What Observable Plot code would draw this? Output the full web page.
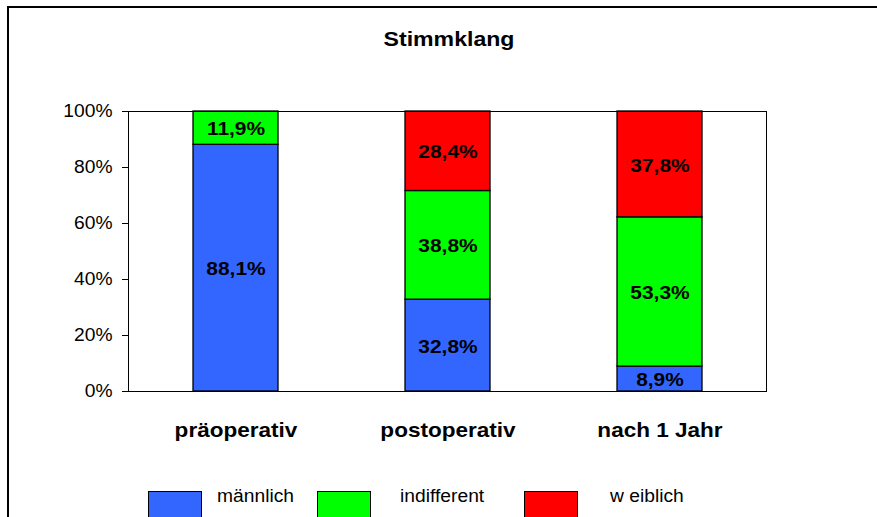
<!DOCTYPE html>
<html>
<head>
<meta charset="utf-8">
<script src="https://cdn.jsdelivr.net/npm/d3@7"></script>
<script src="https://cdn.jsdelivr.net/npm/@observablehq/plot@0.6"></script>
<style>
  html, body { margin: 0; padding: 0; background: #fff; }
  #wrap { position: relative; width: 877px; height: 517px; overflow: hidden; background: #fff;
          font-family: "Liberation Sans", Arial, sans-serif; }
  #frame { position: absolute; left: 7px; top: 6px; width: 1000px; height: 1000px;
           border-left: 2px solid #000; border-top: 2px solid #000; }
  #title { position: absolute; left: 449px; top: 28px; font-size: 21px; font-weight: bold; line-height: 21px;
           white-space: nowrap; transform: translateX(-50%) scaleX(1.1); }
  #chart { position: absolute; left: 0; top: 0; }
  .sw { position: absolute; top: 491px; width: 54px; height: 40px; border: 1.5px solid #000; box-sizing: border-box; }
  .lt { position: absolute; top: 487px; font-size: 17.5px; line-height: 19px; white-space: nowrap;
        transform-origin: left center; transform: scaleX(1.1); }
</style>
</head>
<body>
<div id="wrap">
  <div id="frame"></div>
  <div id="title">Stimmklang</div>
  <div id="chart"></div>
</div>
<script>
const title = "Stimmklang";
const categories = ["präoperativ", "postoperativ", "nach 1 Jahr"];
const seriesNames = ["männlich", "indifferent", "weiblich"];
const legendLabels = ["männlich", "indifferent", "w eiblich"];
const maennlich = [88.1, 32.8, 8.9];
const indifferent = [11.9, 38.8, 53.3];
const weiblich = [0, 28.4, 37.8];
const seriesColors = ["#3366FF", "#00FF00", "#FF0000"];
const yTicks = [0, 20, 40, 60, 80, 100];

const seriesValues = [maennlich, indifferent, weiblich];
const data = [];
categories.forEach((c, i) => {
  seriesNames.forEach((s, j) => {
    const v = seriesValues[j][i];
    if (v > 0) data.push({category: c, series: s, value: v});
  });
});

const fmt = v => v.toFixed(1).replace(".", ",") + "%";

const chart = Plot.plot({
  width: 877,
  height: 470,
  marginLeft: 128,
  marginRight: 111,
  marginTop: 111,
  marginBottom: 79,
  style: {fontFamily: "'Liberation Sans', Arial, sans-serif", background: "transparent", color: "#000", overflow: "visible"},
  x: {domain: categories, paddingInner: 0.6, paddingOuter: 0.3, axis: null},
  y: {domain: [0, 100], axis: null},
  color: {domain: seriesNames, range: seriesColors},
  marks: [
    Plot.barY(data, Plot.stackY({x: "category", y: "value", z: "series", fill: "series", order: seriesNames, stroke: "#000", strokeWidth: 1.3})),
    Plot.frame({stroke: "#000", strokeWidth: 1}),
    Plot.text(data, Plot.stackY({x: "category", y: "value", z: "series", order: seriesNames,
      text: d => fmt(d.value), fill: "#000", fontWeight: "bold", fontSize: 19, dy: 1})),
    Plot.axisY({ticks: yTicks, tickFormat: d => d + "%", tickSize: 6, tickPadding: 10, fontSize: 17.5, label: null, stroke: "#000"}),
    Plot.axisX({tickSize: 0, tickPadding: 31, fontSize: 20.5, fontWeight: "bold", label: null})
  ]
});
document.getElementById("chart").appendChild(chart);

// slight horizontal glyph stretch as in the reference rendering
chart.querySelectorAll("text").forEach(t => {
  const len = t.getComputedTextLength();
  if (len > 0) {
    t.setAttribute("textLength", (len * 1.1).toFixed(1));
    t.setAttribute("lengthAdjust", "spacingAndGlyphs");
  }
});

// legend (below the plot)
const wrap = document.getElementById("wrap");
const swX = [148, 317, 524];
const ltX = [217, 400, 610];
seriesNames.forEach((s, i) => {
  const sw = document.createElement("div");
  sw.className = "sw";
  sw.style.left = swX[i] + "px";
  sw.style.background = seriesColors[i];
  wrap.appendChild(sw);
  const lt = document.createElement("div");
  lt.className = "lt";
  lt.style.left = ltX[i] + "px";
  lt.textContent = legendLabels[i];
  wrap.appendChild(lt);
});
</script>
</body>
</html>
